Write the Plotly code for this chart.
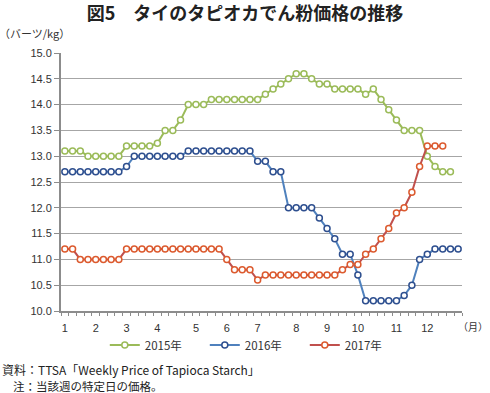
import plotly.graph_objects as go

# Weekly prices (Baht/kg)
price_2015 = [13.1, 13.1, 13.1, 13.0, 13.0, 13.0, 13.0, 13.0, 13.2, 13.2, 13.2, 13.2, 13.25,
              13.5, 13.5, 13.7, 14.0, 14.0, 14.0, 14.1, 14.1, 14.1, 14.1, 14.1, 14.1, 14.1,
              14.2, 14.3, 14.4, 14.5, 14.6, 14.6, 14.5, 14.4, 14.4, 14.3, 14.3, 14.3, 14.3,
              14.2, 14.3, 14.1, 13.9, 13.7, 13.5, 13.5, 13.5, 13.0, 12.8, 12.7, 12.7]
price_2016 = [12.7, 12.7, 12.7, 12.7, 12.7, 12.7, 12.7, 12.7, 12.8, 13.0, 13.0, 13.0, 13.0,
              13.0, 13.0, 13.0, 13.1, 13.1, 13.1, 13.1, 13.1, 13.1, 13.1, 13.1, 13.1, 12.9,
              12.9, 12.7, 12.7, 12.0, 12.0, 12.0, 12.0, 11.8, 11.6, 11.4, 11.1, 11.1, 10.7,
              10.2, 10.2, 10.2, 10.2, 10.2, 10.3, 10.5, 11.0, 11.1, 11.2, 11.2, 11.2, 11.2]
price_2017 = [11.2, 11.2, 11.0, 11.0, 11.0, 11.0, 11.0, 11.0, 11.2, 11.2, 11.2, 11.2, 11.2,
              11.2, 11.2, 11.2, 11.2, 11.2, 11.2, 11.2, 11.2, 11.0, 10.8, 10.8, 10.8, 10.6,
              10.7, 10.7, 10.7, 10.7, 10.7, 10.7, 10.7, 10.7, 10.7, 10.7, 10.8, 10.9, 10.9,
              11.1, 11.2, 11.4, 11.6, 11.9, 12.0, 12.3, 12.8, 13.2, 13.2, 13.2]

n_weeks = 52
month_week_index = [0, 4, 8, 12, 17, 21, 25, 30, 34, 38, 43, 47]
month_labels = ["1", "2", "3", "4", "5", "6", "7", "8", "9", "10", "11", "12"]
series_names = ["2015年", "2016年", "2017年"]
y_ticks = [10.0, 10.5, 11.0, 11.5, 12.0, 12.5, 13.0, 13.5, 14.0, 14.5, 15.0]

line_colors = ["#9BBB59", "#4F81BD", "#C0504D"]
marker_colors = ["#9BBB59", "#2E4F8F", "#DC5A2E"]

JP = "Noto Sans CJK JP"
NUM = "Liberation Sans, Arial, sans-serif"

fig = go.Figure()
for name, vals, lc, mc in zip(series_names, [price_2015, price_2016, price_2017], line_colors, marker_colors):
    fig.add_trace(go.Scatter(
        x=list(range(len(vals))), y=vals, name=name, mode="lines+markers",
        line=dict(color=lc, width=2),
        marker=dict(symbol="circle", size=6, color="white", line=dict(color=mc, width=1.5)),
    ))

fig.update_layout(
    width=490, height=393,
    margin=dict(l=61, r=28, t=53, b=82, autoexpand=False),
    paper_bgcolor="white", plot_bgcolor="white",
    showlegend=True,
    legend=dict(orientation="h", xref="container", yref="container", x=0.52, xanchor="center",
                y=1 - 345 / 393, yanchor="middle", font=dict(family=JP, size=11.5, color="#333333"),
                itemwidth=30, entrywidth=55, tracegroupgap=0, itemclick=False,
                bgcolor="rgba(0,0,0,0)"),
    title=dict(text="<b>図5　タイのタピオカでん粉価格の推移</b>", x=0.5, xanchor="center",
               xref="container", yref="container", y=1 - 14 / 393, yanchor="middle",
               font=dict(family=JP, size=18, color="#222222")),
)

fig.update_xaxes(
    range=[-0.5, n_weeks - 0.5], tickmode="array", tickvals=month_week_index, ticktext=month_labels,
    ticks="outside", ticklen=6, tickcolor="rgba(0,0,0,0)",
    tickfont=dict(family=NUM, size=11, color="#333333"),
    showline=True, linecolor="#8C8C8C", linewidth=2, showgrid=False, zeroline=False,
    minor=dict(tickmode="array", tickvals=[i - 0.5 for i in range(n_weeks + 1)],
               ticks="outside", ticklen=3, tickcolor="#8C8C8C", tickwidth=1, showgrid=False),
)
fig.update_yaxes(
    range=[10, 15], tickmode="array", tickvals=y_ticks, tickformat=".1f",
    ticks="outside", ticklen=5, tickcolor="#8C8C8C", tickwidth=1,
    tickfont=dict(family=NUM, size=11, color="#333333"),
    showline=True, linecolor="#8C8C8C", linewidth=2,
    showgrid=True, gridcolor="#A6A6A6", gridwidth=1.3, zeroline=False,
)

fig.add_annotation(text="（バーツ/kg）", xref="paper", yref="paper", x=-64 / 400.7, xanchor="left",
                   y=(310.7 - 33) / 258, yanchor="middle", showarrow=False,
                   font=dict(family=JP, size=11, color="#333333"))
fig.add_annotation(text="（月）", xref="paper", yref="paper", x=(473 - 61) / 400.7, xanchor="center",
                   y=(310.7 - 326) / 258, yanchor="middle", showarrow=False,
                   font=dict(family=JP, size=10, color="#333333"))
fig.add_annotation(text="資料：TTSA「Weekly Price of Tapioca Starch」", xref="paper", yref="paper",
                   x=-61 / 400.7, xanchor="left", y=(310.7 - 369) / 258, yanchor="middle",
                   showarrow=False, font=dict(family=JP, size=12, color="#222222"))
fig.add_annotation(text="注：当該週の特定日の価格。", xref="paper", yref="paper",
                   x=-50 / 400.7, xanchor="left", y=(310.7 - 386) / 258, yanchor="middle",
                   showarrow=False, font=dict(family=JP, size=11.5, color="#222222"))

fig.write_html("out.html", config={"displayModeBar": False},
               post_script="document.body.style.margin='0';document.body.style.overflow='hidden';")
